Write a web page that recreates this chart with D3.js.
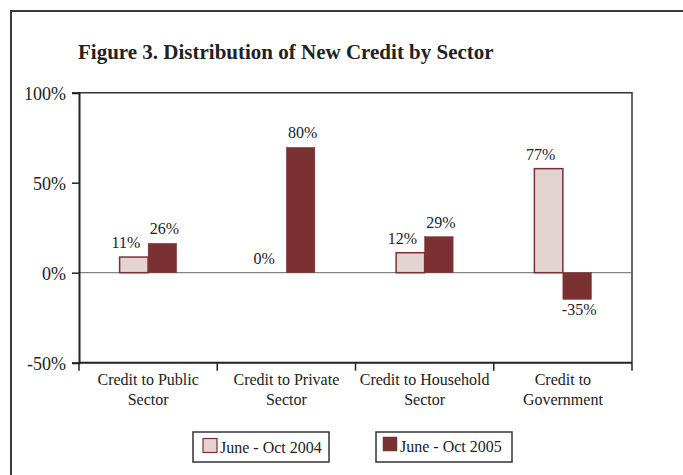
<!DOCTYPE html>
<html>
<head>
<meta charset="utf-8">
<script src="https://cdn.jsdelivr.net/npm/d3@7"></script>
<style>
  body { margin: 0; background: #fff; }
  text { font-family: "Liberation Serif", "DejaVu Serif", serif; fill: #222; }
</style>
</head>
<body>
<script>
  "use strict";

  // chart values
  var sectors = [
    ["Credit to Public", "Sector"],
    ["Credit to Private", "Sector"],
    ["Credit to Household", "Sector"],
    ["Credit to", "Government"]
  ];
  var seriesNames = ["June - Oct 2004", "June - Oct 2005"];
  // bar heights as drawn (percent)
  var values2004 = [8.7, 0, 11.1, 57.8];
  var values2005 = [16.3, 69.6, 20, -14.8];
  // value labels as printed
  var labels2004 = ["11%", "0%", "12%", "77%"];
  var labels2005 = ["26%", "80%", "29%", "-35%"];
  var yTicks = [100, 50, 0, -50];

  var colors = ["#e4d3d3", "#7b3131"];
  var strokes = ["#7b3131", "#7b3131"];

  var W = 683, H = 475;
  var plot = {left: 79, right: 632, top: 92.7, bottom: 362.7};

  var svg = d3.select("body")
    .append("svg")
      .attr("width", W)
      .attr("height", H);

  // outer frame (open on right and bottom)
  svg.append("path")
    .attr("d", "M11," + H + " L11,11 L" + W + ",11")
    .attr("fill", "none")
    .attr("stroke", "#3a3a3a")
    .attr("stroke-width", 2);

  // title
  svg.append("text")
    .attr("x", 78)
    .attr("y", 59)
    .style("font-size", "21px")
    .style("font-weight", "bold")
    .text("Figure 3. Distribution of New Credit by Sector");

  var y = d3.scaleLinear().domain([-50, 100]).range([plot.bottom, plot.top]);
  var x0 = d3.scaleBand().domain(d3.range(sectors.length)).range([plot.left, plot.right]);
  var pairWidth = 57;
  var x1 = d3.scaleBand().domain([0, 1]).range([0, pairWidth]);

  // plot frame: top and right
  svg.append("path")
    .attr("d", "M" + plot.left + "," + plot.top + " L" + plot.right + "," + plot.top +
               " L" + plot.right + "," + plot.bottom)
    .attr("fill", "none")
    .attr("stroke", "#333")
    .attr("stroke-width", 1.5);

  // zero line
  svg.append("line")
    .attr("x1", plot.left).attr("x2", plot.right)
    .attr("y1", y(0)).attr("y2", y(0))
    .attr("stroke", "#666")
    .attr("stroke-width", 1);

  // y axis
  var yAxis = d3.axisLeft(y)
    .tickValues(yTicks)
    .tickSize(7)
    .tickPadding(6)
    .tickFormat(function(d) { return d + "%"; });
  var gy = svg.append("g")
    .attr("transform", "translate(" + plot.left + ",0)")
    .call(yAxis);
  gy.select(".domain").attr("stroke", "#222").attr("stroke-width", 2);
  gy.selectAll(".tick line").attr("stroke", "#222").attr("stroke-width", 1.5);
  gy.selectAll(".tick text")
    .style("font-size", "18px")
    .style("font-family", "Liberation Serif, serif")
    .attr("fill", "#222")
    .attr("dy", "0.35em");

  // x axis: ticks at band boundaries
  var bounds = x0.domain().map(function(d) { return x0(d); }).concat([plot.right]);
  var gx = svg.append("g");
  gx.append("line")
    .attr("x1", plot.left).attr("x2", plot.right)
    .attr("y1", plot.bottom).attr("y2", plot.bottom)
    .attr("stroke", "#222").attr("stroke-width", 2);
  gx.selectAll(".xt")
    .data(bounds)
    .enter().append("line")
      .attr("x1", function(d) { return d; })
      .attr("x2", function(d) { return d; })
      .attr("y1", plot.bottom)
      .attr("y2", plot.bottom + 8)
      .attr("stroke", "#222").attr("stroke-width", 1.5);

  var cat = svg.append("g").selectAll("text")
    .data(sectors)
    .enter().append("text")
      .attr("text-anchor", "middle")
      .style("font-size", "16px")
      .attr("x", function(d, i) { return x0(i) + x0.bandwidth() / 2; })
      .attr("y", 385);
  cat.append("tspan")
    .attr("x", function(d, i) { return x0(i) + x0.bandwidth() / 2; })
    .text(function(d) { return d[0]; });
  cat.append("tspan")
    .attr("x", function(d, i) { return x0(i) + x0.bandwidth() / 2; })
    .attr("dy", 20)
    .text(function(d) { return d[1]; });

  // bars
  var seriesValues = [values2004, values2005];
  var seriesLabels = [labels2004, labels2005];

  function barX(i, s) {
    return x0(i) + (x0.bandwidth() - pairWidth) / 2 + x1(s);
  }

  seriesValues.forEach(function(vals, s) {
    var rows = vals.map(function(v, i) {
      return {i: i, value: v, label: seriesLabels[s][i]};
    });
    var g = svg.append("g");
    g.selectAll("rect")
      .data(rows.filter(function(d) { return d.value !== 0; }))
      .enter().append("rect")
        .attr("x", function(d) { return barX(d.i, s); })
        .attr("width", x1.bandwidth())
        .attr("y", function(d) { return y(Math.max(0, d.value)); })
        .attr("height", function(d) { return Math.abs(y(d.value) - y(0)); })
        .attr("fill", colors[s])
        .attr("stroke", strokes[s])
        .attr("stroke-width", s === 0 ? 1.5 : 0.5);

    g.selectAll("text")
      .data(rows)
      .enter().append("text")
        .attr("text-anchor", "middle")
        .style("font-size", "16px")
        .attr("x", function(d) { return barX(d.i, s) + x1.bandwidth() / 2 + (s === 0 ? -8 : 2); })
        .attr("y", function(d) { return d.value >= 0 ? y(d.value) - 9 : y(d.value) + 16; })
        .text(function(d) { return d.label; });
  });

  // legend
  var legendBoxes = [
    {x: 193, w: 136},
    {x: 376, w: 136}
  ];
  seriesNames.forEach(function(name, s) {
    var lg = svg.append("g")
      .attr("transform", "translate(" + legendBoxes[s].x + ",432)");
    lg.append("rect")
      .attr("width", legendBoxes[s].w)
      .attr("height", 30)
      .attr("fill", "#fff")
      .attr("stroke", "#333")
      .attr("stroke-width", 1.5);
    lg.append("rect")
      .attr("x", s === 0 ? 10 : 7)
      .attr("y", s === 0 ? 6.5 : 5)
      .attr("width", 14)
      .attr("height", 14)
      .attr("fill", colors[s])
      .attr("stroke", strokes[s])
      .attr("stroke-width", s === 0 ? 1.2 : 0.5);
    lg.append("text")
      .attr("x", s === 0 ? 27 : 24)
      .attr("y", s === 0 ? 20.5 : 19.5)
      .style("font-size", "16px")
      .text(name);
  });
</script>
</body>
</html>
